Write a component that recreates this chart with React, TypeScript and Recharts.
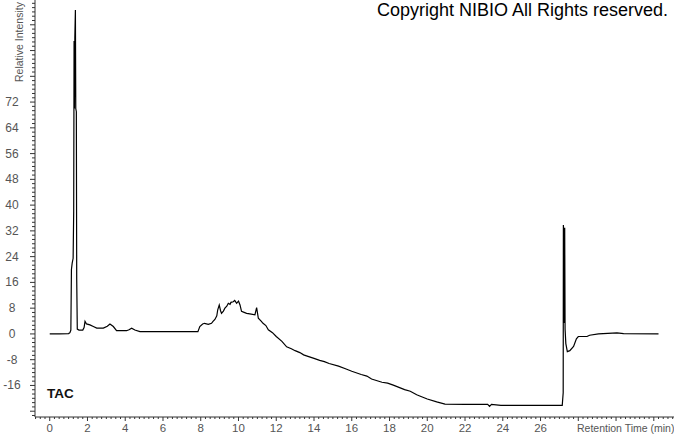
import { LineChart, Line, XAxis, YAxis } from "recharts";

// retention time (min) and relative intensity
const retentionTime = [
  0, 0.5, 1.0, 1.07, 1.12, 1.15, 1.19, 1.24, 1.27, 1.29, 1.31, 1.33, 1.36, 1.38, 1.41, 1.43, 1.46,
  1.55, 1.75, 1.82, 1.87, 1.95, 2.13, 2.31, 2.49, 2.84, 3.05, 3.19, 3.37, 3.54, 4.07, 4.2, 4.34,
  4.51, 4.78, 5.3, 6.5, 7.85, 7.95, 8.1, 8.2, 8.4, 8.57, 8.65, 8.75, 8.85, 8.9, 8.98, 9.05, 9.1,
  9.2, 9.28, 9.38, 9.46, 9.55, 9.6, 9.72, 9.8, 9.9, 10.0, 10.08, 10.16, 10.3, 10.43, 10.6, 10.87,
  10.96, 11.05, 11.2, 11.3, 11.45, 11.58, 11.8, 12.0, 12.3, 12.55, 12.8, 13.0, 13.25, 13.45, 13.6,
  14.0, 14.3, 14.55, 14.8, 15.3, 15.7, 16.0, 16.5, 16.8, 17.05, 17.6, 17.9, 18.2, 18.8, 19.1, 19.44,
  19.7, 20.0, 20.5, 20.94, 22.0, 23.2, 23.3, 23.4, 23.9, 25.0, 26.0, 27.15, 27.2, 27.21, 27.24,
  27.26, 27.28, 27.3, 27.34, 27.42, 27.55, 27.75, 27.9, 28.0, 28.46, 28.6, 29.07, 30.05, 30.4,
  32.25,
];
const relIntensity = [
  0, 0, 0.1, 0.4, 1.2, 20, 22, 23.5, 38, 91, 70, 92, 100.6, 70, 69, 17, 1.5,
  1.2, 1.2, 2, 3.9, 3.1, 2.8, 2.3, 1.8, 1.8, 2.4, 3.1, 2.3, 1.0, 1.0, 1.3, 1.8,
  1.2, 0.7, 0.7, 0.7, 0.7, 2.3, 3.1, 3.3, 3.0, 3.3, 3.9, 4.5, 5.6, 7.5, 9.0, 7.2, 6.4,
  7.1, 8, 8.6, 9.5, 9.2, 9.8, 10, 10.4, 9.5, 10.2, 9.0, 7, 6.7, 6.4, 6.2, 5.9,
  8.2, 4.9, 4.0, 3.3, 2.6, 1.3, 0.4, -0.8, -2.3, -4, -4.6, -5.2, -5.8, -6.5, -6.8,
  -7.6, -8.2, -8.6, -9.2, -10, -10.9, -11.6, -12.6, -13.1, -14.0, -15, -15.3, -15.9, -17.3, -17.8, -18.9,
  -19.5, -20.2, -21.1, -21.8, -21.9, -21.9, -22.5, -21.9, -22.2, -22.2, -22.2, -22.2, -18.3, 33.8, 30,
  3.4, 33, 1.5, -3, -5.5, -5.2, -3.9, -1.5, -0.8, -0.8, -0.4, 0, 0.3, 0.1,
  0,
];

const xTickLabels = [0, 2, 4, 6, 8, 10, 12, 14, 16, 18, 20, 22, 24, 26];
const yTickLabels = [-16, -8, 0, 8, 16, 24, 32, 40, 48, 56, 64, 72];

const X_MIN = -0.78;
const X_MAX = 33.07;
const Y_MIN = -25.8;
const Y_MAX = 103.7;

const data = retentionTime.map((t, i) => ({ t, v: relIntensity[i] }));

const xStep = 0.25;
const xTicks: number[] = [];
for (let i = Math.ceil(X_MIN / xStep); i * xStep <= X_MAX; i++) xTicks.push(i * xStep);

const yStep = 8 / 6;
const yTicks: number[] = [];
for (let k = Math.ceil(Y_MIN / yStep); k * yStep <= Y_MAX; k++) yTicks.push(k * yStep);

const near = (a: number, b: number) => Math.abs(a - b) < 1e-6;
const FONT = "'Liberation Sans', Arial, sans-serif";
const AXIS = "#333";
const LABEL = "#555";

function XTick({ x, y, payload }: any) {
  const v = payload.value;
  const major = near(v / 2, Math.round(v / 2));
  const label = xTickLabels.find((t) => near(t, v));
  return (
    <g>
      <line x1={x} x2={x} y1={y} y2={y + (major ? 4 : 2)} stroke={AXIS} />
      {label !== undefined && (
        <text x={x} y={y + 15} textAnchor="middle" fontSize={11.5} fill={LABEL} fontFamily={FONT}>
          {label}
        </text>
      )}
    </g>
  );
}

function YTick({ x, y, payload }: any) {
  const v = payload.value;
  const major = near(v / 8, Math.round(v / 8));
  const label = yTickLabels.find((t) => near(t, v));
  return (
    <g>
      <line x1={x} x2={x - (major ? 5 : 3)} y1={y} y2={y} stroke={AXIS} />
      {label !== undefined && (
        <text x={x - 23} y={y + 4} textAnchor="middle" fontSize={12} fill={LABEL} fontFamily={FONT}>
          {label}
        </text>
      )}
    </g>
  );
}

export default function App() {
  return (
    <div style={{ position: "absolute", left: 0, top: 0, width: 674, height: 434, background: "#fff" }}>
      <LineChart width={674} height={434} data={data} margin={{ top: 0, right: 0, bottom: 0, left: 0 }}>
        <XAxis
          type="number"
          dataKey="t"
          domain={[X_MIN, X_MAX]}
          allowDataOverflow
          ticks={xTicks}
          interval={0}
          tick={<XTick />}
          tickLine={false}
          tickSize={0}
          tickMargin={0}
          height={17}
          stroke={AXIS}
        />
        <YAxis
          type="number"
          domain={[Y_MIN, Y_MAX]}
          allowDataOverflow
          ticks={yTicks}
          interval={0}
          tick={<YTick />}
          tickLine={false}
          tickSize={0}
          tickMargin={0}
          width={35}
          stroke={AXIS}
        />
        <Line
          type="linear"
          dataKey="v"
          stroke="#000"
          strokeWidth={1.2}
          dot={false}
          isAnimationActive={false}
        />
      </LineChart>
      <svg width={674} height={434} style={{ position: "absolute", left: 0, top: 0, pointerEvents: "none" }}>
        <text x={377} y={16} fontSize={18} fill="#000" fontFamily={FONT}>
          Copyright NIBIO All Rights reserved.
        </text>
        <text x={47} y={398} fontSize={13.5} fontWeight="bold" fill="#111" fontFamily={FONT}>
          TAC
        </text>
        <text x={577} y={432} fontSize={10.5} fill={LABEL} fontFamily={FONT}>
          Retention Time (min)
        </text>
        <text
          x={22.5}
          y={82}
          fontSize={10.5}
          fill={LABEL}
          fontFamily={FONT}
          transform="rotate(-90 22.5 82)"
        >
          Relative Intensity
        </text>
      </svg>
    </div>
  );
}
